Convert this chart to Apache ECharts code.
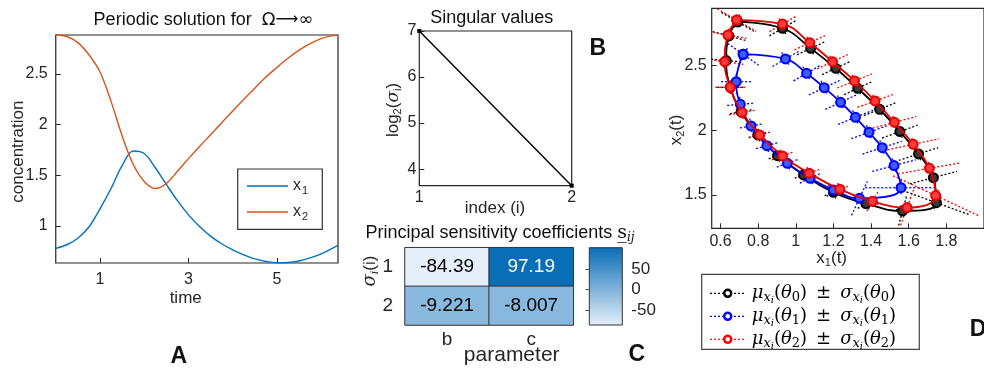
<!DOCTYPE html>
<html><head><meta charset="utf-8">
<script src="https://cdn.jsdelivr.net/npm/echarts@6/dist/echarts.min.js"></script>
<style>html,body{margin:0;padding:0;background:#fff}#c{width:984px;height:372px}</style>
</head><body><div id="c"></div>
<script>
// ---------- Panel A: periodic solution ----------
const timeVals = [0, 0.25, 0.5, 0.75, 1.0, 1.25, 1.5, 1.75, 2.0, 2.25, 2.5, 2.75, 3.0, 3.25, 3.5, 3.75, 4.0, 4.25, 4.5, 4.75, 5.0, 5.25, 5.5, 5.75, 6.0, 6.25, 6.38];
const x1Vals   = [0.78, 0.815, 0.88, 0.99, 1.17, 1.37, 1.595, 1.74, 1.715, 1.575, 1.41, 1.25, 1.11, 0.995, 0.90, 0.825, 0.765, 0.715, 0.675, 0.65, 0.637, 0.64, 0.655, 0.685, 0.725, 0.78, 0.81];
const x2Vals   = [2.885, 2.87, 2.81, 2.69, 2.52, 2.23, 1.89, 1.61, 1.44, 1.37, 1.42, 1.54, 1.665, 1.785, 1.90, 2.02, 2.135, 2.25, 2.36, 2.47, 2.565, 2.655, 2.735, 2.80, 2.85, 2.878, 2.885];
const timeTicks = [1, 3, 5];
const concTicks = [1, 1.5, 2, 2.5];

// ---------- Panel B: singular values ----------
const svIndex = [1, 2];
const svLog2 = [7, 3.64];
const svXTicks = [1, 2];
const svYTicks = [4, 5, 6, 7];

// ---------- Panel C: principal sensitivity coefficients ----------
const paramNames = ['b', 'c'];
const sigmaRows = ['1', '2'];
const sensRow1 = [-84.39, 97.19];
const sensRow2 = [-9.221, -8.007];
const cbTicks = [-50, 0, 50];

// ---------- Panel D: trajectories with error crosses ----------
// theta0 (black)
const th0X   = [0.691, 0.929, 1.079, 1.212, 1.329, 1.445, 1.553, 1.652, 1.731, 1.747, 1.567, 1.372, 1.200, 1.041, 0.903, 0.798, 0.709, 0.652, 0.630, 0.645];
const th0Y   = [2.840, 2.789, 2.634, 2.480, 2.325, 2.163, 1.990, 1.817, 1.634, 1.440, 1.376, 1.433, 1.520, 1.655, 1.804, 1.964, 2.144, 2.333, 2.540, 2.730];
const th0Ang = [30, -30, -25, -25, -25, -22, -20, -18, -15, 20, -75, -30, -20, -20, -20, -15, -10, 0, 5, 15];
const th0Maj = [0.10, 0.08, 0.08, 0.08, 0.08, 0.09, 0.10, 0.11, 0.13, 0.19, 0.08, 0.05, 0.05, 0.05, 0.05, 0.05, 0.06, 0.07, 0.08, 0.09];
// theta1 (blue)
const th1X   = [0.720, 0.945, 1.057, 1.151, 1.238, 1.317, 1.389, 1.459, 1.522, 1.559, 1.338, 1.200, 1.076, 0.955, 0.846, 0.762, 0.705, 0.683];
const th1Y   = [2.588, 2.552, 2.441, 2.330, 2.217, 2.101, 1.985, 1.866, 1.727, 1.556, 1.474, 1.539, 1.629, 1.745, 1.881, 2.034, 2.201, 2.376];
const th1Ang = [35, -30, -30, -25, -25, -22, -20, -18, -15, 0, -65, -45, -25, -20, -15, -10, -5, 0];
const th1Maj = [0.10, 0.08, 0.08, 0.09, 0.09, 0.10, 0.10, 0.11, 0.12, 0.19, 0.10, 0.05, 0.06, 0.06, 0.06, 0.06, 0.07, 0.08];
// theta2 (red)
const th2X   = [0.686, 0.929, 1.074, 1.195, 1.312, 1.421, 1.524, 1.624, 1.710, 1.743, 1.591, 1.407, 1.234, 1.071, 0.929, 0.808, 0.714, 0.652, 0.622, 0.639];
const th2Y   = [2.853, 2.822, 2.678, 2.531, 2.382, 2.227, 2.062, 1.892, 1.706, 1.495, 1.402, 1.451, 1.544, 1.668, 1.802, 1.964, 2.137, 2.333, 2.531, 2.737];
const th2Ang = [30, -30, -25, -25, -22, -20, -15, -12, -10, 25, -70, -60, -20, -20, -20, -15, -10, 0, 8, 10];
const th2Maj = [0.12, 0.08, 0.09, 0.09, 0.10, 0.10, 0.12, 0.14, 0.17, 0.25, 0.10, 0.06, 0.05, 0.06, 0.06, 0.06, 0.07, 0.08, 0.10, 0.10];
const minorSigma = [0.035, 0.04, 0.035];
const dXTicks = [0.6, 0.8, 1.0, 1.2, 1.4, 1.6, 1.8];
const dYTicks = [1.5, 2, 2.5];

// ---------- build ----------
const FONT = "'Liberation Sans', Arial, Helvetica, sans-serif";
const SERIF = "'DejaVu Serif', 'Liberation Serif', serif";
const AX = '#262626';
const chart = echarts.init(document.getElementById('c'), null, {renderer: 'canvas'});

function valAxis(gi, min, max, ticks, extra) {
  return Object.assign({
    type: 'value', gridIndex: gi, min: min, max: max,
    axisLine: {show: false},
    axisTick: {show: true, inside: true, length: 5, lineStyle: {color: AX}, customValues: ticks},
    axisLabel: {color: AX, fontSize: 16, fontFamily: FONT, customValues: ticks,
      formatter: v => String(+(+v).toFixed(2))},
    splitLine: {show: false}
  }, extra || {});
}

const seriesA = [
  {type: 'line', xAxisIndex: 0, yAxisIndex: 0, data: timeVals.map((t, i) => [t, x1Vals[i]]),
   smooth: 0.35, showSymbol: false, lineStyle: {color: '#0072BD', width: 1.4}, z: 3},
  {type: 'line', xAxisIndex: 0, yAxisIndex: 0, data: timeVals.map((t, i) => [t, x2Vals[i]]),
   smooth: 0.35, showSymbol: false, lineStyle: {color: '#D95319', width: 1.4}, z: 3}
];

const seriesB = [{type: 'line', xAxisIndex: 1, yAxisIndex: 1, data: svIndex.map((x, i) => [x, svLog2[i]]),
  symbol: 'rect', symbolSize: 4, itemStyle: {color: '#000'}, lineStyle: {color: '#000', width: 1.4}, clip: false}];

const heatData = [];
[sensRow1, sensRow2].forEach((row, r) => row.forEach((v, c) => {
  heatData.push({value: [c, r, v], label: {color: v > 50 ? '#fff' : '#000'}});
}));
const allSens = sensRow1.concat(sensRow2);
const sMin = Math.min.apply(null, allSens), sMax = Math.max.apply(null, allSens);
const CMAP = ['#e4eff9', '#0a6db7'];

const seriesC = [{type: 'heatmap', xAxisIndex: 2, yAxisIndex: 2, data: heatData,
  itemStyle: {borderColor: '#333', borderWidth: 1},
  label: {show: true, fontSize: 19, fontFamily: FONT, formatter: p => String(p.value[2])},
  emphasis: {disabled: true}}];

const seriesCB = [{type: 'custom', xAxisIndex: 3, yAxisIndex: 3, data: [[0, -86.6, 1, 102]],
  renderItem: (params, api) => {
    const p0 = api.coord([api.value(0), api.value(1)]);
    const p1 = api.coord([api.value(2), api.value(3)]);
    return {type: 'rect', shape: {x: p0[0], y: p1[1], width: p1[0] - p0[0], height: p0[1] - p1[1]},
      style: {fill: new echarts.graphic.LinearGradient(0, 1, 0, 0, [{offset: 0, color: CMAP[0]}, {offset: 1, color: CMAP[1]}]),
        stroke: '#333', lineWidth: 1}};
  }, silent: true}];

function crossSeries(X, Y, A, M, minor, color, z) {
  return {type: 'custom', xAxisIndex: 4, yAxisIndex: 4, clip: true, z: z, silent: true,
    data: X.map((x, i) => [x, Y[i], A[i], M[i], minor]),
    renderItem: (params, api) => {
      const c = api.coord([api.value(0), api.value(1)]);
      const ppu = api.size([1, 0])[0];
      const ang = api.value(2) * Math.PI / 180;
      const a = api.value(3) * ppu, b = api.value(4) * ppu;
      const ux = Math.cos(ang), uy = Math.sin(ang), vx = -uy, vy = ux;
      const st = {stroke: color, lineWidth: 1.3, lineDash: [2, 2]};
      return {type: 'group', children: [
        {type: 'line', shape: {x1: c[0] - ux * a, y1: c[1] - uy * a, x2: c[0] + ux * a, y2: c[1] + uy * a}, style: st},
        {type: 'line', shape: {x1: c[0] - vx * b, y1: c[1] - vy * b, x2: c[0] + vx * b, y2: c[1] + vy * b}, style: st}
      ]};
    }};
}
function loopSeries(X, Y, color, fill, z) {
  const d = X.map((x, i) => [x, Y[i]]);
  d.push(d[0]);
  return {type: 'line', xAxisIndex: 4, yAxisIndex: 4, data: d, smooth: 0.45,
    symbol: 'circle', symbolSize: 9, itemStyle: {color: fill, borderColor: color, borderWidth: 2},
    lineStyle: {color: color, width: 1.8}, z: z, clip: true};
}
const seriesD = [
  crossSeries(th0X, th0Y, th0Ang, th0Maj, minorSigma[0], '#000', 2),
  crossSeries(th1X, th1Y, th1Ang, th1Maj, minorSigma[1], '#0000ff', 2),
  crossSeries(th2X, th2Y, th2Ang, th2Maj, minorSigma[2], '#ff0000', 2),
  loopSeries(th0X, th0Y, '#000', '#3a3a3a', 4),
  loopSeries(th1X, th1Y, '#0000ff', '#3d5cff', 5),
  loopSeries(th2X, th2Y, '#e60000', '#ff3a3a', 6)
];

function txt(x, y, text, opt) {
  opt = opt || {};
  return {type: 'text', x: x, y: y, rotation: opt.rot || 0, z: 100,
    style: Object.assign({text: text, fill: AX, fontSize: 17, fontFamily: FONT, align: 'center', verticalAlign: 'middle'}, opt.style || {})};
}
const subRich = {
  a: {fontSize: 16, fontFamily: FONT, fill: AX},
  b: {fontSize: 11, fontFamily: FONT, fill: AX, padding: [10, 0, 0, 1]}
};
const mathRich = {
  m: {fontSize: 18, fontFamily: SERIF, fontStyle: 'italic', fill: '#000'},
  n: {fontSize: 18, fontFamily: SERIF, fill: '#000'},
  s: {fontSize: 13, fontFamily: SERIF, fontStyle: 'italic', fill: '#000', padding: [9, 0, 0, 0]},
  sn: {fontSize: 13, fontFamily: SERIF, fill: '#000', padding: [9, 0, 0, 0]},
  ss: {fontSize: 10, fontFamily: SERIF, fontStyle: 'italic', fill: '#000', padding: [15, 0, 0, 0]}
};
function muSig(k) {
  return `{m|μ}{s|x}{ss|i}{n|(}{m|θ}{sn|${k}}{n|)\u2002±\u2002}{m|σ}{s|x}{ss|i}{n|(}{m|θ}{sn|${k}}{n|)}`;
}
const legD = [['#000', '0'], ['#0000ff', '1'], ['#ff0000', '2']];
const legDGraphics = [{type: 'rect', shape: {x: 701.7, y: 274.3, width: 217.6, height: 75}, style: {fill: '#fff', stroke: '#444', lineWidth: 1.2}, z: 90}];
legD.forEach((e, i) => {
  const y = 293.3 + i * 23;
  legDGraphics.push({type: 'line', shape: {x1: 710, y1: y, x2: 745, y2: y}, style: {stroke: e[0], lineWidth: 1.2, lineDash: [2, 2]}, z: 95});
  legDGraphics.push({type: 'circle', shape: {cx: 727.7, cy: y, r: 3.5}, style: {fill: '#fff', stroke: e[0], lineWidth: 2.5}, z: 96});
  legDGraphics.push({type: 'text', x: 751.7, y: y, z: 96, style: {text: muSig(e[1]), rich: mathRich, align: 'left', verticalAlign: 'middle'}});
});

const option = {
  animation: false,
  backgroundColor: '#fff',
  textStyle: {fontFamily: FONT},
  grid: [
    {left: 55.75, top: 35, right: 646, bottom: 109, show: true, borderColor: AX, borderWidth: 1.2, backgroundColor: 'transparent'},
    {left: 419.3, top: 31, right: 412.3, bottom: 186.3, show: true, borderColor: AX, borderWidth: 1.2, backgroundColor: 'transparent'},
    {left: 405, top: 247.7, right: 410.7, bottom: 47},
    {left: 589.3, top: 247.7, right: 361.7, bottom: 47},
    {left: 711.7, top: 8.3, right: -7.3, bottom: 143.7, show: true, borderColor: AX, borderWidth: 1.2, backgroundColor: 'transparent'}
  ],
  xAxis: [
    valAxis(0, 0, 6.38, timeTicks, {axisLabel: {color: AX, fontSize: 16, fontFamily: FONT, customValues: timeTicks, margin: 9}}),
    valAxis(1, 1, 2, svXTicks, {axisLabel: {color: AX, fontSize: 16, fontFamily: FONT, customValues: svXTicks, margin: 4}}),
    {type: 'category', gridIndex: 2, data: paramNames, axisLine: {show: false}, axisTick: {show: false},
     axisLabel: {color: AX, fontSize: 19, fontFamily: FONT, margin: 5}, splitLine: {show: false}, splitArea: {show: false}},
    {type: 'value', gridIndex: 3, min: 0, max: 1, show: false},
    valAxis(4, 0.553, 2.0, dXTicks, {axisLabel: {color: AX, fontSize: 16, fontFamily: FONT, customValues: dXTicks, margin: 5,
      formatter: v => String(+(+v).toFixed(1))}})
  ],
  yAxis: [
    valAxis(0, 0.635, 2.885, concTicks, {axisLabel: {color: AX, fontSize: 16, fontFamily: FONT, customValues: concTicks, margin: 8}}),
    valAxis(1, 3.64, 7, svYTicks, {axisLabel: {color: AX, fontSize: 16, fontFamily: FONT, customValues: svYTicks, margin: 3}}),
    {type: 'category', gridIndex: 2, data: sigmaRows, inverse: true, axisLine: {show: false}, axisTick: {show: false},
     axisLabel: {color: AX, fontSize: 19, fontFamily: FONT, margin: 12}, splitLine: {show: false}, splitArea: {show: false}},
    valAxis(3, -86.6, 102, cbTicks, {position: 'right', axisLabel: {color: AX, fontSize: 17, fontFamily: FONT, customValues: cbTicks, margin: 9},
      axisTick: {show: true, inside: true, length: 4, lineStyle: {color: '#555'}, customValues: cbTicks}}),
    valAxis(4, 1.242, 2.944, dYTicks, {axisLabel: {color: AX, fontSize: 16, fontFamily: FONT, customValues: dYTicks, margin: 5}})
  ],
  visualMap: [{type: 'continuous', show: false, seriesIndex: 3, min: sMin, max: sMax, inRange: {color: CMAP}}],
  series: seriesA.concat(seriesB, seriesC, seriesCB, seriesD),
  graphic: [
    // Panel A
    txt(203.5, 20, '{t|Periodic solution for  }{o|Ω}{r|⟶}{o|∞}', {style: {rich: {
      t: {fontSize: 18, fontFamily: FONT, fill: '#111'},
      o: {fontSize: 18, fontFamily: "'DejaVu Sans', " + FONT, fill: '#111'},
      r: {fontSize: 16, fontFamily: "'DejaVu Sans', " + FONT, fill: '#111'}}}}),
    txt(18.7, 151.7, 'concentration', {rot: Math.PI / 2}),
    txt(185.7, 298.3, 'time'),
    txt(178.7, 357, 'A', {style: {fontSize: 23, fontWeight: 'bold', fill: '#111'}}),
    {type: 'rect', shape: {x: 237.7, y: 169, width: 84.6, height: 60.3}, style: {fill: '#fff', stroke: '#333', lineWidth: 1.2}, z: 90},
    {type: 'line', shape: {x1: 247, y1: 186, x2: 288, y2: 186}, style: {stroke: '#0072BD', lineWidth: 1.4}, z: 95},
    {type: 'line', shape: {x1: 247, y1: 212, x2: 288, y2: 212}, style: {stroke: '#D95319', lineWidth: 1.4}, z: 95},
    txt(293, 186, '{a|x}{b|1}', {style: {rich: subRich, align: 'left'}}),
    txt(293, 212, '{a|x}{b|2}', {style: {rich: subRich, align: 'left'}}),
    // Panel B
    txt(491.7, 18.3, 'Singular values', {style: {fontSize: 18, fill: '#111'}}),
    txt(393.3, 110, '{a|log}{b|2}{a|(}{g|σ}{b|i}{a|)}', {rot: Math.PI / 2, style: {rich: {
      a: {fontSize: 17, fontFamily: FONT, fill: AX},
      g: {fontSize: 17, fontFamily: SERIF, fontStyle: 'italic', fill: AX},
      b: {fontSize: 11, fontFamily: FONT, fill: AX, padding: [10, 0, 0, 0]}}}}),
    txt(495, 208.5, 'index (i)'),
    txt(597.7, 49, 'B', {style: {fontSize: 23, fontWeight: 'bold', fill: '#111'}}),
    // Panel C
    txt(500, 233, '{a|Principal sensitivity coefficients }{s|s\u0332}{b|ij}', {style: {rich: {
      a: {fontSize: 18, fontFamily: FONT, fill: '#111'},
      s: {fontSize: 19, fontFamily: SERIF, fill: '#111'},
      b: {fontSize: 12, fontFamily: SERIF, fontStyle: 'italic', fill: '#111', padding: [10, 0, 0, 0]}}}}),
    txt(370, 271, '{g|σ}{b|i}{a|(i)}', {rot: Math.PI / 2, style: {rich: {
      a: {fontSize: 17, fontFamily: FONT, fill: AX},
      g: {fontSize: 18, fontFamily: SERIF, fontStyle: 'italic', fill: AX},
      b: {fontSize: 11, fontFamily: SERIF, fontStyle: 'italic', fill: AX, padding: [10, 0, 0, 0]}}}}),
    txt(511.7, 355, 'parameter', {style: {fontSize: 21}}),
    txt(636.7, 355, 'C', {style: {fontSize: 23, fontWeight: 'bold', fill: '#111'}}),
    // Panel D
    txt(676, 130, '{a|x}{b|2}{a|(t)}', {rot: Math.PI / 2, style: {rich: {
      a: {fontSize: 17, fontFamily: FONT, fill: AX},
      b: {fontSize: 11, fontFamily: FONT, fill: AX, padding: [10, 0, 0, 0]}}}}),
    txt(831.7, 258, '{a|x}{b|1}{a|(t)}', {style: {rich: {
      a: {fontSize: 17, fontFamily: FONT, fill: AX},
      b: {fontSize: 11, fontFamily: FONT, fill: AX, padding: [10, 0, 0, 0]}}}}),
    txt(978, 330, 'D', {style: {fontSize: 23, fontWeight: 'bold', fill: '#111'}})
  ].concat(legDGraphics)
};
chart.setOption(option);
</script></body></html>
